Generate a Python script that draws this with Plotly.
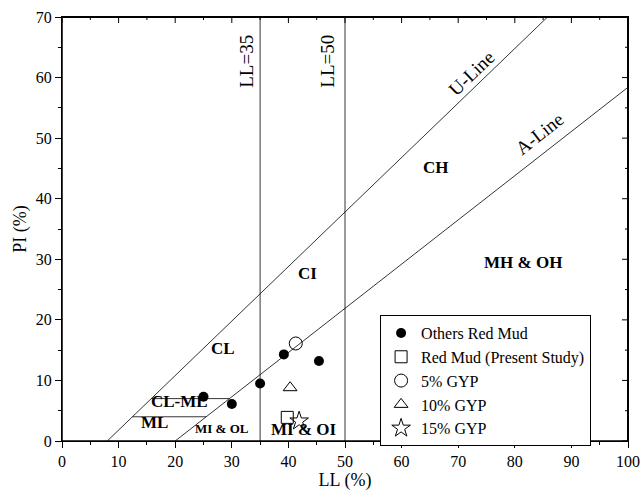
import plotly.graph_objects as go

# Data
others_ll = [25.0, 30.0, 35.0, 39.2, 45.4]
others_pi = [7.3, 6.1, 9.5, 14.3, 13.2]
present_ll = [39.8]
present_pi = [3.9]
gyp5_ll = [41.3]
gyp5_pi = [16.1]
gyp10_ll = [40.3]
gyp10_pi = [8.8]
gyp15_ll = [41.9]
gyp15_pi = [3.3]

u_ll = [8, 85.78]
u_pi = [0, 70]
a_ll = [20, 100]
a_pi = [0, 58.4]
clml_top_ll = [15.78, 29.59]
clml_top_pi = [7, 7]
clml_bot_ll = [12.44, 25.48]
clml_bot_pi = [4, 4]

region_labels = ["CL", "CI", "CH", "MH & OH", "CL-ML", "ML", "MI & OL", "MI & OI"]
region_ll = [28.5, 43.3, 66.0, 81.4, 20.8, 16.3, 28.2, 42.8]
region_pi = [15.2, 27.6, 45.2, 29.5, 6.6, 3.0, 2.1, 1.9]
region_size = [17, 17, 17, 17, 17, 17, 13, 17]

X_RANGE = [0, 100]
Y_RANGE = [0, 70]
x_major = list(range(0, 101, 10))
x_minor = list(range(5, 100, 10))
y_major = list(range(0, 71, 10))
y_minor = list(range(5, 70, 10))

FONT = "Liberation Serif, Times New Roman, serif"
fig = go.Figure()

line_style = dict(color="black", width=0.8)
for xs, ys in [(u_ll, u_pi), (a_ll, a_pi), (clml_top_ll, clml_top_pi),
               (clml_bot_ll, clml_bot_pi), ([35, 35], Y_RANGE), ([50, 50], Y_RANGE)]:
    fig.add_trace(go.Scatter(x=xs, y=ys, mode="lines", line=line_style,
                             showlegend=False, hoverinfo="skip"))

# frame edges (top and right) along the axis limits
fig.add_trace(go.Scatter(x=[X_RANGE[0], X_RANGE[1], X_RANGE[1]],
                         y=[Y_RANGE[1], Y_RANGE[1], Y_RANGE[0]],
                         mode="lines", line=dict(color="black", width=2),
                         showlegend=False, hoverinfo="skip"))

fig.add_trace(go.Scatter(x=others_ll, y=others_pi, mode="markers", name="Others Red Mud",
                         marker=dict(symbol="circle", size=10, color="black")))
fig.add_trace(go.Scatter(x=present_ll, y=present_pi, mode="markers", name="Red Mud (Present Study)",
                         marker=dict(symbol="square-open", size=12, color="black", line=dict(width=1))))
fig.add_trace(go.Scatter(x=gyp5_ll, y=gyp5_pi, mode="markers", name="5% GYP",
                         marker=dict(symbol="circle-open", size=13, color="black", line=dict(width=1))))
fig.add_trace(go.Scatter(x=gyp10_ll, y=gyp10_pi, mode="markers", name="10% GYP",
                         marker=dict(symbol="triangle-up-open", size=12, color="black", line=dict(width=1))))
fig.add_trace(go.Scatter(x=gyp15_ll, y=gyp15_pi, mode="markers", name="15% GYP",
                         marker=dict(symbol="star-open", size=14, color="black", line=dict(width=1))))

annotations = []
for t, x, y, s in zip(region_labels, region_ll, region_pi, region_size):
    annotations.append(dict(x=x, y=y, text=f"<b>{t}</b>", showarrow=False,
                            font=dict(family=FONT, size=s, color="black")))
annotations += [
    dict(x=32.6, y=62.7, text="LL=35", textangle=-90, showarrow=False,
         font=dict(family=FONT, size=19, color="black")),
    dict(x=46.9, y=62.7, text="LL=50", textangle=-90, showarrow=False,
         font=dict(family=FONT, size=19, color="black")),
    dict(x=72.3, y=60.7, text="U-Line", textangle=-44, showarrow=False,
         font=dict(family=FONT, size=19, color="black")),
    dict(x=84.4, y=50.8, text="A-Line", textangle=-38, showarrow=False,
         font=dict(family=FONT, size=19, color="black")),
]

# Frame (top/right) with inward ticks
shapes = [dict(type="rect", xref="paper", yref="paper", x0=0, x1=1, y0=0, y1=1,
               line=dict(color="black", width=1.5), layer="above")]
for v, ln in [(v, 6) for v in x_major] + [(v, 3) for v in x_minor]:
    shapes.append(dict(type="line", xref="x", yref="paper", ysizemode="pixel", yanchor=1,
                       x0=v, x1=v, y0=0, y1=-ln, line=dict(color="black", width=1)))
for v, ln in [(v, 6) for v in y_major] + [(v, 3) for v in y_minor]:
    shapes.append(dict(type="line", yref="y", xref="paper", xsizemode="pixel", xanchor=1,
                       y0=v, y1=v, x0=0, x1=-ln, line=dict(color="black", width=1)))

axis_common = dict(showline=True, linecolor="black", linewidth=1, showgrid=False, zeroline=False,
                   ticks="outside", ticklen=6, tickwidth=1, tickcolor="black", automargin=False,
                   mirror=True,
                   tickfont=dict(family=FONT, size=16, color="black"),
                   minor=dict(ticks="outside", ticklen=3, tickwidth=1, tickcolor="black", dtick=5))

fig.update_layout(
    width=641, height=501,
    margin=dict(l=62, r=13, t=17, b=60),
    plot_bgcolor="white", paper_bgcolor="white",
    font=dict(family=FONT, color="black"),
    xaxis=dict(range=X_RANGE, tickvals=x_major,
               title=dict(text="LL (%)", font=dict(family=FONT, size=18), standoff=4),
               **axis_common),
    yaxis=dict(range=Y_RANGE, tickvals=y_major,
               title=dict(text="PI (%)", font=dict(family=FONT, size=18), standoff=4),
               **axis_common),
    legend=dict(x=0.562, y=0.297, xanchor="left", yanchor="top",
                bgcolor="white", bordercolor="black", borderwidth=1,
                font=dict(family=FONT, size=16, color="black"),
                tracegroupgap=0),
    annotations=annotations,
    shapes=shapes,
)

fig.write_html("out.html")
